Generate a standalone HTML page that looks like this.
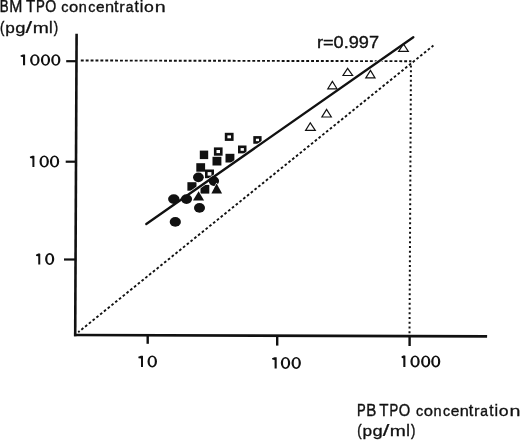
<!DOCTYPE html>
<html><head><meta charset="utf-8">
<style>
html,body{margin:0;padding:0;background:#fff;width:520px;height:440px;overflow:hidden}
svg{display:block;filter:grayscale(1)}
text{font-family:"Liberation Sans",sans-serif;fill:#111;stroke:#111;stroke-width:0.55px}
</style></head>
<body>
<svg width="520" height="440" viewBox="0 0 520 440">
<rect width="520" height="440" fill="#fff"/>
<text transform="translate(-0.16 12.00) scale(0.813 1.000)" font-size="16.3" style="stroke-width:0.43px">B</text>
<text transform="translate(9.13 12.00) scale(0.968 1.000)" font-size="16.3" style="stroke-width:0.36px">M</text>
<text transform="translate(25.99 12.00) scale(0.928 1.000)" font-size="16.3" style="stroke-width:0.38px">T</text>
<text transform="translate(35.94 12.00) scale(0.813 1.000)" font-size="16.3" style="stroke-width:0.43px">P</text>
<text transform="translate(45.26 12.00) scale(0.867 1.000)" font-size="16.3" style="stroke-width:0.40px">O</text>
<text transform="translate(61.21 12.00) scale(0.889 0.950)" font-size="16.3" style="stroke-width:0.39px">c</text>
<text transform="translate(69.03 12.00) scale(1.020 0.950)" font-size="16.3" style="stroke-width:0.34px">o</text>
<text transform="translate(78.86 12.00) scale(0.888 0.950)" font-size="16.3" style="stroke-width:0.39px">n</text>
<text transform="translate(88.22 12.00) scale(0.875 0.950)" font-size="16.3" style="stroke-width:0.40px">c</text>
<text transform="translate(96.07 12.00) scale(0.948 0.950)" font-size="16.3" style="stroke-width:0.37px">e</text>
<text transform="translate(105.04 12.00) scale(1.004 0.950)" font-size="16.3" style="stroke-width:0.35px">n</text>
<text transform="translate(114.08 12.00) scale(0.997 1.000)" font-size="16.3" style="stroke-width:0.35px">t</text>
<text transform="translate(119.22 12.00) scale(1.018 0.950)" font-size="16.3" style="stroke-width:0.34px">r</text>
<text transform="translate(125.63 12.00) scale(0.854 0.950)" font-size="16.3" style="stroke-width:0.41px">a</text>
<text transform="translate(134.59 12.00) scale(0.949 1.000)" font-size="16.3" style="stroke-width:0.37px">t</text>
<text transform="translate(139.74 12.00) scale(1.000 1.000)" font-size="16.3" style="stroke-width:0.35px">i</text>
<text transform="translate(143.98 12.00) scale(1.085 0.950)" font-size="16.3" style="stroke-width:0.32px">o</text>
<text transform="translate(154.72 12.00) scale(1.206 0.950)" font-size="16.3" style="stroke-width:0.29px">n</text>
<text transform="translate(0.06 32.80) scale(0.800 1.000)" font-size="16.3" style="stroke-width:0.44px">(</text>
<text transform="translate(5.31 32.80) scale(1.057 0.950)" font-size="16.3" style="stroke-width:0.33px">p</text>
<text transform="translate(15.25 32.80) scale(1.125 0.950)" font-size="16.3" style="stroke-width:0.31px">g</text>
<text transform="translate(25.52 32.80) scale(1.446 1.000)" font-size="16.3" style="stroke-width:0.24px">/</text>
<text transform="translate(32.64 32.80) scale(1.186 0.950)" font-size="16.3" style="stroke-width:0.30px">m</text>
<text transform="translate(48.99 32.80) scale(1.000 1.000)" font-size="16.3" style="stroke-width:0.35px">l</text>
<text transform="translate(53.69 32.80) scale(0.800 1.000)" font-size="16.3" style="stroke-width:0.44px">)</text>
<text transform="translate(357.11 415.50) scale(0.800 1.000)" font-size="16.3" style="stroke-width:0.44px">P</text>
<text transform="translate(366.18 415.50) scale(0.928 1.000)" font-size="16.3" style="stroke-width:0.38px">B</text>
<text transform="translate(379.19 415.50) scale(0.928 1.000)" font-size="16.3" style="stroke-width:0.38px">T</text>
<text transform="translate(389.41 415.50) scale(0.800 1.000)" font-size="16.3" style="stroke-width:0.44px">P</text>
<text transform="translate(398.73 415.50) scale(0.903 1.000)" font-size="16.3" style="stroke-width:0.39px">O</text>
<text transform="translate(415.91 415.50) scale(0.889 0.950)" font-size="16.3" style="stroke-width:0.39px">c</text>
<text transform="translate(423.73 415.50) scale(1.020 0.950)" font-size="16.3" style="stroke-width:0.34px">o</text>
<text transform="translate(433.56 415.50) scale(0.888 0.950)" font-size="16.3" style="stroke-width:0.39px">n</text>
<text transform="translate(442.92 415.50) scale(0.875 0.950)" font-size="16.3" style="stroke-width:0.40px">c</text>
<text transform="translate(450.77 415.50) scale(0.948 0.950)" font-size="16.3" style="stroke-width:0.37px">e</text>
<text transform="translate(459.74 415.50) scale(1.004 0.950)" font-size="16.3" style="stroke-width:0.35px">n</text>
<text transform="translate(468.78 415.50) scale(0.997 1.000)" font-size="16.3" style="stroke-width:0.35px">t</text>
<text transform="translate(473.92 415.50) scale(1.018 0.950)" font-size="16.3" style="stroke-width:0.34px">r</text>
<text transform="translate(480.33 415.50) scale(0.854 0.950)" font-size="16.3" style="stroke-width:0.41px">a</text>
<text transform="translate(489.29 415.50) scale(0.949 1.000)" font-size="16.3" style="stroke-width:0.37px">t</text>
<text transform="translate(494.44 415.50) scale(1.000 1.000)" font-size="16.3" style="stroke-width:0.35px">i</text>
<text transform="translate(498.68 415.50) scale(1.085 0.950)" font-size="16.3" style="stroke-width:0.32px">o</text>
<text transform="translate(509.42 415.50) scale(1.206 0.950)" font-size="16.3" style="stroke-width:0.29px">n</text>
<text transform="translate(357.26 435.90) scale(0.800 1.000)" font-size="16.3" style="stroke-width:0.44px">(</text>
<text transform="translate(362.51 435.90) scale(1.057 0.950)" font-size="16.3" style="stroke-width:0.33px">p</text>
<text transform="translate(372.45 435.90) scale(1.125 0.950)" font-size="16.3" style="stroke-width:0.31px">g</text>
<text transform="translate(382.72 435.90) scale(1.446 1.000)" font-size="16.3" style="stroke-width:0.24px">/</text>
<text transform="translate(389.84 435.90) scale(1.186 0.950)" font-size="16.3" style="stroke-width:0.30px">m</text>
<text transform="translate(406.19 435.90) scale(1.000 1.000)" font-size="16.3" style="stroke-width:0.35px">l</text>
<text transform="translate(410.89 435.90) scale(0.800 1.000)" font-size="16.3" style="stroke-width:0.44px">)</text>
<text x="316.97" y="47.70" font-size="15.9" textLength="62.07" lengthAdjust="spacingAndGlyphs" style="stroke-width:0.35px">r=0.997</text>
<g fill="#111">
<path d="M23.00 54.40 L24.80 54.40 L25.10 54.80 L25.10 65.20 L23.00 65.20 L23.00 57.10 L20.80 56.80 L20.50 55.50 Z"/>
<path fill-rule="evenodd" d="M30.10 59.98 a4.75 5.77 0 1 0 9.50 0 a4.75 5.77 0 1 0 -9.50 0 Z M32.30 59.98 a2.55 4.17 0 1 0 5.10 0 a2.55 4.17 0 1 0 -5.10 0 Z"/>
<path fill-rule="evenodd" d="M40.90 59.98 a4.60 5.77 0 1 0 9.20 0 a4.60 5.77 0 1 0 -9.20 0 Z M43.10 59.98 a2.40 4.17 0 1 0 4.80 0 a2.40 4.17 0 1 0 -4.80 0 Z"/>
<path fill-rule="evenodd" d="M51.20 59.98 a4.60 5.77 0 1 0 9.20 0 a4.60 5.77 0 1 0 -9.20 0 Z M53.40 59.98 a2.40 4.17 0 1 0 4.80 0 a2.40 4.17 0 1 0 -4.80 0 Z"/>
<path d="M32.40 155.70 L34.10 155.70 L34.40 156.10 L34.40 167.10 L32.40 167.10 L32.40 158.40 L30.10 158.10 L29.80 156.80 Z"/>
<path fill-rule="evenodd" d="M39.50 161.55 a4.70 6.05 0 1 0 9.40 0 a4.70 6.05 0 1 0 -9.40 0 Z M41.70 161.55 a2.50 4.45 0 1 0 5.00 0 a2.50 4.45 0 1 0 -5.00 0 Z"/>
<path fill-rule="evenodd" d="M49.90 161.55 a4.65 6.05 0 1 0 9.30 0 a4.65 6.05 0 1 0 -9.30 0 Z M52.10 161.55 a2.45 4.45 0 1 0 4.90 0 a2.45 4.45 0 1 0 -4.90 0 Z"/>
<path d="M38.25 253.60 L39.95 253.60 L40.25 254.00 L40.25 264.50 L38.25 264.50 L38.25 256.30 L36.20 256.00 L35.90 254.70 Z"/>
<path fill-rule="evenodd" d="M45.10 259.05 a4.57 5.95 0 1 0 9.15 0 a4.57 5.95 0 1 0 -9.15 0 Z M47.30 259.05 a2.37 4.35 0 1 0 4.75 0 a2.37 4.35 0 1 0 -4.75 0 Z"/>
<path d="M141.00 355.75 L142.70 355.75 L143.00 356.15 L143.00 367.00 L141.00 367.00 L141.00 358.45 L138.55 358.15 L138.25 356.85 Z"/>
<path fill-rule="evenodd" d="M147.50 361.50 a4.75 6.00 0 1 0 9.50 0 a4.75 6.00 0 1 0 -9.50 0 Z M149.70 361.50 a2.55 4.40 0 1 0 5.10 0 a2.55 4.40 0 1 0 -5.10 0 Z"/>
<path d="M274.60 357.20 L276.40 357.20 L276.70 357.60 L276.70 368.60 L274.60 368.60 L274.60 359.90 L272.30 359.60 L272.00 358.30 Z"/>
<path fill-rule="evenodd" d="M280.80 363.00 a4.70 6.00 0 1 0 9.40 0 a4.70 6.00 0 1 0 -9.40 0 Z M283.00 363.00 a2.50 4.40 0 1 0 5.00 0 a2.50 4.40 0 1 0 -5.00 0 Z"/>
<path fill-rule="evenodd" d="M291.50 363.00 a4.70 6.00 0 1 0 9.40 0 a4.70 6.00 0 1 0 -9.40 0 Z M293.70 363.00 a2.50 4.40 0 1 0 5.00 0 a2.50 4.40 0 1 0 -5.00 0 Z"/>
<path d="M403.30 355.50 L405.10 355.50 L405.40 355.90 L405.40 367.10 L403.30 367.10 L403.30 358.20 L401.80 357.90 L401.50 356.60 Z"/>
<path fill-rule="evenodd" d="M410.40 361.45 a4.65 5.95 0 1 0 9.30 0 a4.65 5.95 0 1 0 -9.30 0 Z M412.60 361.45 a2.45 4.35 0 1 0 4.90 0 a2.45 4.35 0 1 0 -4.90 0 Z"/>
<path fill-rule="evenodd" d="M421.10 361.45 a4.60 5.95 0 1 0 9.20 0 a4.60 5.95 0 1 0 -9.20 0 Z M423.30 361.45 a2.40 4.35 0 1 0 4.80 0 a2.40 4.35 0 1 0 -4.80 0 Z"/>
<path fill-rule="evenodd" d="M431.20 361.45 a4.55 5.95 0 1 0 9.10 0 a4.55 5.95 0 1 0 -9.10 0 Z M433.40 361.45 a2.35 4.35 0 1 0 4.70 0 a2.35 4.35 0 1 0 -4.70 0 Z"/>
</g>
<g stroke="#111" fill="none">
<!-- axes -->
<line x1="76.6" y1="33.8" x2="75.2" y2="336.3" stroke-width="2.6"/>
<line x1="74" y1="335" x2="487.1" y2="336.4" stroke-width="2.6"/>
<!-- y ticks -->
<line x1="66.2" y1="61.2" x2="76" y2="61.2" stroke-width="2.2"/>
<line x1="65.7" y1="161.7" x2="76" y2="161.7" stroke-width="2.2"/>
<line x1="64" y1="259.5" x2="76" y2="259.5" stroke-width="2.2"/>
<!-- x ticks -->
<line x1="147.7" y1="335" x2="147.7" y2="343.8" stroke-width="2.4"/>
<line x1="277.2" y1="336" x2="277.2" y2="345.6" stroke-width="2.4"/>
<line x1="409.6" y1="336" x2="409.6" y2="346" stroke-width="2.4"/>
<!-- dotted lines -->
<line x1="80.8" y1="60.5" x2="411.4" y2="61.2" stroke-width="1.9" stroke-dasharray="2.9 2"/>
<line x1="410.95" y1="65.6" x2="409.5" y2="334" stroke-width="2" stroke-dasharray="2 2.745"/>
<line x1="78.25" y1="332.2" x2="433.4" y2="45.5" stroke-width="1.9" stroke-dasharray="2.6 2.24" stroke-dashoffset="0.86"/>
</g>
<!-- filled squares -->
<g fill="#111" stroke="#fff" stroke-width="1.2" style="paint-order:stroke">
<rect x="199.8" y="150.6" width="8.4" height="8.5"/>
<rect x="212.5" y="156.8" width="8.9" height="8.7"/>
<rect x="225.5" y="153.8" width="8.9" height="8.7"/>
<rect x="196.3" y="163.2" width="8.8" height="8.5"/>
<rect x="187.4" y="182.2" width="9.1" height="8.5"/>
<rect x="200.5" y="184.9" width="8.8" height="8.7"/>
</g>
<!-- open squares -->
<g fill="#fff" stroke="#111" stroke-width="2.6">
<rect x="226.10" y="134.10" width="6.20" height="5.50"/>
<rect x="215.20" y="148.70" width="6.10" height="5.70"/>
<rect x="206.30" y="170.80" width="6.40" height="6.10"/>
<rect x="239.30" y="146.80" width="5.90" height="5.30"/>
<rect x="254.60" y="137.40" width="5.70" height="5.05"/>
</g>
<!-- regression halo -->
<line x1="146.3" y1="224" x2="413.3" y2="37.2" stroke="#fff" stroke-width="3.8"/>
<!-- circles -->
<g fill="#111" stroke="#fff" stroke-width="1.0" style="paint-order:stroke">
<ellipse cx="198.4" cy="177.35" rx="5.4" ry="4.85"/>
<ellipse cx="213.9" cy="181.1" rx="5.2" ry="4.8"/>
<ellipse cx="173.8" cy="199.1" rx="5.7" ry="4.8"/>
<ellipse cx="186.5" cy="199.1" rx="5.6" ry="4.8"/>
<ellipse cx="199.5" cy="207.9" rx="5.5" ry="4.85"/>
<ellipse cx="175.3" cy="221.9" rx="5.6" ry="4.8"/>
</g>
<!-- regression -->
<line x1="146.3" y1="224" x2="413.3" y2="37.2" stroke="#111" stroke-width="2.3" stroke-linecap="round"/>
<!-- filled triangles -->
<g fill="#111" stroke="#fff" stroke-width="1.2" style="paint-order:stroke" stroke-linejoin="round">
<path d="M198.6 191.2 L193 200.6 L204.1 200.6 Z"/>
<path d="M216.6 183.5 L211.4 193.4 L222.1 193.4 Z"/>
</g>
<!-- open triangles -->
<g fill="none" stroke="#111" stroke-width="1.2" stroke-linejoin="miter">
<path d="M310.3 122.8 L305.6 130.4 L315.3 130.4 Z"/>
<path d="M326.6 109.4 L321.9 117 L331.3 117 Z"/>
<path d="M332.4 81.4 L327.8 88.8 L337 88.8 Z"/>
<path d="M347.6 68.4 L343 75.5 L352.6 75.5 Z"/>
<path d="M370.5 70.4 L365.8 77.9 L375 77.9 Z"/>
<path d="M403.5 44 L398.6 51.3 L408.3 51.3 Z"/>
</g>
</svg>
</body></html>
